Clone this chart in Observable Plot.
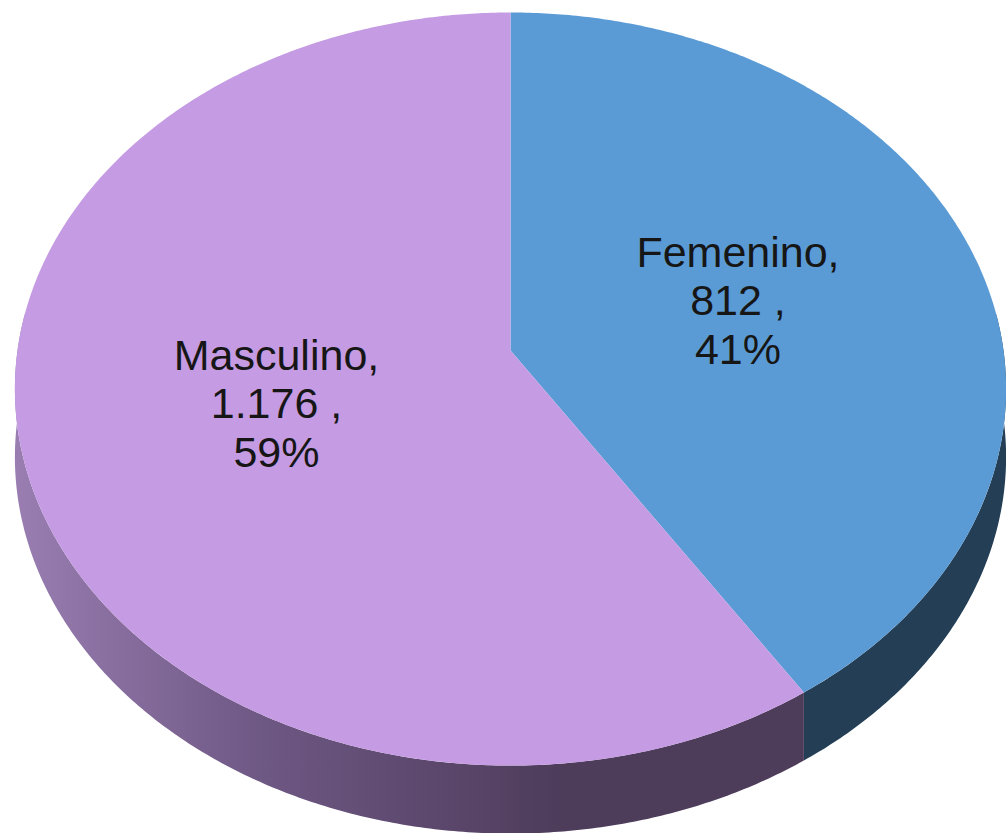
<!DOCTYPE html>
<html><head><meta charset="utf-8">
<script src="https://cdn.jsdelivr.net/npm/d3@7"></script>
<script src="https://cdn.jsdelivr.net/npm/@observablehq/plot@0.6"></script>
<style>html,body{margin:0;padding:0;background:#fff;} #chart{width:1006px;height:833px;}</style>
</head><body><div id="chart"></div>
<script>
const categories = ["Femenino", "Masculino"];
const values = [812, 1176];
const valueLabels = ["812", "1.176"];
const percentLabels = ["41%", "59%"];

const W = 1006, H = 833;
// perspective model of the tilted disc (pixel space)
const CX = 510, CY = 350, A = 493, B = 372.6, K = -0.1023, DEPTH = 68;
function proj(phi, r = 1, dz = 0) {
  const u = r * Math.sin(phi), v = -r * Math.cos(phi);
  const w = 1 + K * v;
  return [CX + A * u / w, CY + B * v / w + dz];
}
const total = d3.sum(values);
let acc = 0;
const slices = categories.map((c, i) => {
  const a0 = acc / total * 2 * Math.PI; acc += values[i];
  const a1 = acc / total * 2 * Math.PI;
  const mid = proj((a0 + a1) / 2, 0.488);
  return {category: c, value: values[i], a0, a1, lx: mid[0], ly: mid[1],
          label: `${c},\n${valueLabels[i]} ,\n${percentLabels[i]}`};
});
function arc(a0, a1, dz) {
  const n = Math.max(2, Math.ceil((a1 - a0) / (Math.PI / 360)));
  return d3.range(n + 1).map(j => proj(a0 + (a1 - a0) * j / n, 1, dz));
}
const tops = slices.map(s => ({type: "Feature", properties: s,
  geometry: {type: "Polygon", coordinates: [[proj(0, 0), ...arc(s.a0, s.a1, 0), proj(0, 0)]]}}));
const frontStart = Math.PI / 2 - 0.1, frontEnd = 3 * Math.PI / 2 + 0.1;
const sides = slices.filter(s => s.a1 > frontStart && s.a0 < frontEnd).map(s => {
  const b0 = Math.max(s.a0, frontStart), b1 = Math.min(s.a1, frontEnd);
  const topArc = arc(b0, b1, 0), botArc = arc(b0, b1, DEPTH).reverse();
  return {type: "Feature", properties: s,
    geometry: {type: "Polygon", coordinates: [[...topArc, ...botArc, topArc[0]]]}};
});

const plot = Plot.plot({
  width: W, height: H, margin: 0,
  projection: d3.geoIdentity(),
  style: {background: "#fff"},
  marks: [
    Plot.geo(sides, {filter: d => d.properties.category === "Femenino", fill: "#233E55"}),
    Plot.geo(sides, {filter: d => d.properties.category === "Masculino", fill: "url(#mascSide)"}),
    Plot.geo(tops, {filter: d => d.properties.category === "Femenino", fill: "#5B9BD5"}),
    Plot.geo(tops, {filter: d => d.properties.category === "Masculino", fill: "#C59BE3"}),
    Plot.text(slices, {x: "lx", y: "ly", text: "label", fontSize: 43, lineHeight: 1.13,
      fill: "#161616", fontFamily: "Liberation Sans, Arial, sans-serif"})
  ]
});
d3.select(plot).insert("defs", ":first-child").html(
  `<linearGradient id="mascSide" gradientUnits="userSpaceOnUse" x1="13" y1="0" x2="560" y2="0">
     <stop offset="0" stop-color="#9A7EB2"/>
     <stop offset="0.45" stop-color="#6E5884"/>
     <stop offset="1" stop-color="#4E3C5B"/>
   </linearGradient>`);
document.getElementById("chart").appendChild(plot);
</script>
</body></html>
